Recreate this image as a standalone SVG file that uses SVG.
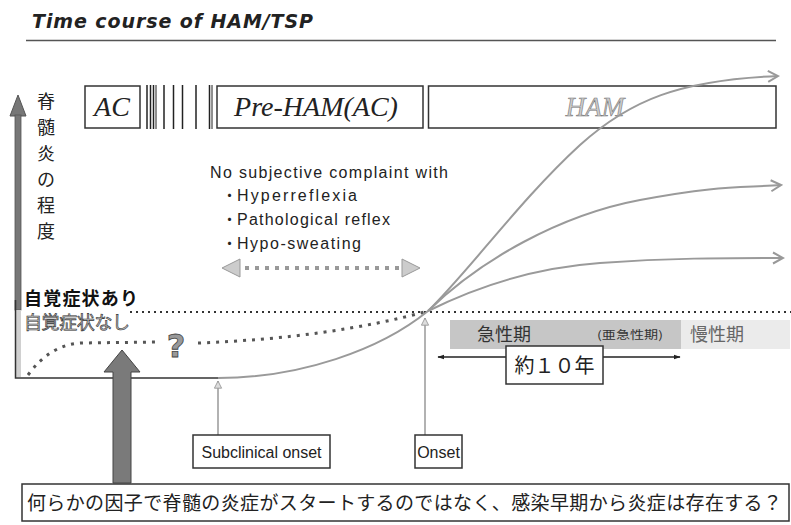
<svg xmlns="http://www.w3.org/2000/svg" width="791" height="525" viewBox="0 0 791 525">
<style>
.bx{fill:#fff;stroke:#333;stroke-width:1.5}
.cv{fill:none;stroke:#9a9a9a;stroke-width:2}
.jp{font-family:"Noto Sans CJK JP","Noto Sans CJK SC",sans-serif}
.en{font-family:"Liberation Sans",Arial,sans-serif}
.ti{font-family:"Liberation Serif","Times New Roman",serif;font-style:italic}
.vl{stroke:#222}
</style>
<defs>
<marker id="open" viewBox="0 0 14 14" refX="12" refY="7" markerWidth="14" markerHeight="14" markerUnits="userSpaceOnUse" orient="auto">
<path d="M2,1.5 L12,7 L2,12.5" fill="none" stroke="#999" stroke-width="2"/>
</marker>
<marker id="tip" viewBox="0 0 10 10" refX="9" refY="5" markerWidth="9" markerHeight="9" markerUnits="userSpaceOnUse" orient="auto">
<path d="M1,1 L9,5 L1,9 z" fill="#ddd" stroke="#999" stroke-width="1"/>
</marker>
<marker id="blk" viewBox="0 0 10 10" refX="9" refY="5" markerWidth="7" markerHeight="7" markerUnits="userSpaceOnUse" orient="auto-start-reverse">
<path d="M0,1.5 L10,5 L0,8.5 z" fill="#222"/>
</marker>
</defs>
<rect width="791" height="525" fill="#fff"/>

<g id="title">
<text x="32" y="28" font-family="DejaVu Sans,Verdana,sans-serif" font-weight="bold" font-style="italic" font-size="19" fill="#222" textLength="281" lengthAdjust="spacing">Time course of HAM/TSP</text>
<line x1="26" y1="40.5" x2="776" y2="40.5" stroke="#555" stroke-width="1.5"/>
</g>

<g id="box-ac">
<rect class="bx" x="85" y="86" width="55" height="42"/>
<text class="ti" x="112" y="116" font-size="28" text-anchor="middle" fill="#222">AC</text>
</g>
<g id="separator-lines">
<line class="vl" x1="147" y1="85" x2="147" y2="129" stroke-width="1.5"/>
<line class="vl" x1="150.5" y1="85" x2="150.5" y2="129" stroke-width="1.5"/>
<line class="vl" x1="153.5" y1="85" x2="153.5" y2="129" stroke-width="1.5"/>
<line class="vl" x1="156" y1="85" x2="156" y2="129" stroke-width="1"/>
<line class="vl" x1="164" y1="85" x2="164" y2="129" stroke-width="1.5"/>
<line class="vl" x1="173.5" y1="85" x2="173.5" y2="129" stroke-width="1.5"/>
<line class="vl" x1="182.5" y1="85" x2="182.5" y2="129" stroke-width="1.5"/>
<line class="vl" x1="196" y1="85" x2="196" y2="129" stroke-width="1.5"/>
<line class="vl" x1="209.5" y1="85" x2="209.5" y2="129" stroke-width="1.5"/>
<line class="vl" x1="212" y1="85" x2="212" y2="129" stroke-width="1"/>
</g>
<g id="box-prehAM">
<rect class="bx" x="217" y="86" width="206" height="42"/>
<text class="ti" x="316" y="116" font-size="28" text-anchor="middle" fill="#222">Pre-HAM(AC)</text>
</g>
<g id="box-ham">
<rect class="bx" x="428.5" y="86" width="347.5" height="42"/>
<text class="ti" x="595" y="116" font-size="27" text-anchor="middle" fill="#ccc" stroke="#777" stroke-width="0.6">HAM</text>
</g>

<g id="y-axis">
<polygon points="18,95 10,116 26,116" fill="#777" stroke="#555" stroke-width="1"/>
<rect x="15" y="115" width="6" height="195" fill="#777" stroke="#555" stroke-width="0.8"/>
<rect x="15" y="310" width="6" height="67" fill="#d0d0d0"/>
<path d="M15.5,300 V378 H218" fill="none" stroke="#333" stroke-width="1.5"/>
<g class="jp" font-size="18" fill="#222" text-anchor="middle">
<text x="46" y="108">脊</text>
<text x="46" y="134">髄</text>
<text x="46" y="160">炎</text>
<text x="46" y="186">の</text>
<text x="46" y="212">程</text>
<text x="46" y="238">度</text>
</g>
</g>

<g id="label-aware">
<text class="jp" x="24" y="305" font-size="18" font-weight="bold" fill="#111" textLength="114" lengthAdjust="spacing">自覚症状あり</text>
</g>
<g id="label-unaware">
<text class="jp" x="24" y="329" font-size="18" fill="#bbb" stroke="#333" stroke-width="0.6" textLength="106" lengthAdjust="spacing">自覚症状なし</text>
</g>

<g id="complaints" class="en" fill="#222">
<text x="210" y="178" font-size="16" textLength="238" lengthAdjust="spacing">No subjective complaint with</text>
<text class="jp" x="222" y="201" font-size="15">・</text>
<text x="237" y="201" font-size="16" textLength="120" lengthAdjust="spacing">Hyperreflexia</text>
<text class="jp" x="222" y="225" font-size="15">・</text>
<text x="237" y="225" font-size="16" textLength="153" lengthAdjust="spacing">Pathological reflex</text>
<text class="jp" x="222" y="249" font-size="15">・</text>
<text x="237" y="249" font-size="16" textLength="124" lengthAdjust="spacing">Hypo-sweating</text>
</g>

<g id="acute-band">
<rect x="450" y="320" width="231" height="29" fill="#c6c6c6"/>
<rect x="681" y="320" width="109" height="29" fill="#ebebeb"/>
<text class="jp" x="477" y="341" font-size="18" fill="#333">急性期</text>
<text class="jp" x="597" y="339" font-size="11" fill="#333" textLength="66" lengthAdjust="spacingAndGlyphs">(亜急性期)</text>
<text class="jp" x="690" y="341" font-size="18" fill="#666">慢性期</text>
</g>

<g id="connectors">
<line x1="130" y1="312" x2="791" y2="312" stroke="#333" stroke-width="2" stroke-dasharray="2 4"/>
<path d="M28,375 Q50,345 80,343 L157,342" fill="none" stroke="#555" stroke-width="3" stroke-dasharray="3 6"/>
<path d="M198,343 Q330,338 428,311" fill="none" stroke="#555" stroke-width="3" stroke-dasharray="3 6"/>
<path class="cv" d="M218,378 C300,378 380,350 428,311"/>
<path class="cv" d="M428,311 C470,270 520,200 580,145 C630,100 680,80 778,76" marker-end="url(#open)"/>
<path class="cv" d="M428,311 C480,260 560,215 640,200 S740,188 781,185" marker-end="url(#open)"/>
<path class="cv" d="M428,311 C470,290 530,268 600,263 S720,258 783,258" marker-end="url(#open)"/>
<g id="dashed-range">
<polygon points="222,268 240,259 240,277" fill="#ccc" stroke="#999" stroke-width="1"/>
<line x1="245" y1="268" x2="399" y2="268" stroke="#999" stroke-width="4" stroke-dasharray="4 6"/>
<polygon points="420,268 402,259 402,277" fill="#ccc" stroke="#999" stroke-width="1"/>
</g>
<line x1="218" y1="435" x2="218" y2="381" stroke="#999" stroke-width="1.5" marker-end="url(#tip)"/>
<line x1="425" y1="435" x2="425" y2="318" stroke="#999" stroke-width="1.5" marker-end="url(#tip)"/>
<line x1="438" y1="357" x2="680" y2="357" stroke="#222" stroke-width="1.5" marker-start="url(#blk)" marker-end="url(#blk)"/>
</g>

<g id="ten-years">
<rect class="bx" x="506" y="346" width="97" height="38"/>
<text class="jp" x="554.5" y="373" font-size="20" text-anchor="middle" fill="#222">約１０年</text>
</g>

<g id="question">
<text x="176" y="357" font-family="DejaVu Sans,sans-serif" font-weight="bold" font-size="32" text-anchor="middle" fill="#999" stroke="#444" stroke-width="0.8">?</text>
</g>

<g id="big-arrow">
<polygon points="113,483 113,372 104,372 122,350 140,372 131,372 131,483" fill="#7a7a7a" stroke="#444" stroke-width="1"/>
</g>

<g id="subclinical-onset">
<rect class="bx" x="193" y="435" width="137" height="33"/>
<text class="en" x="261.5" y="458" font-size="16" text-anchor="middle" fill="#222">Subclinical onset</text>
</g>
<g id="onset">
<rect class="bx" x="415" y="435" width="47" height="33"/>
<text class="en" x="438.5" y="458" font-size="16" text-anchor="middle" fill="#222">Onset</text>
</g>

<g id="bottom-note">
<rect x="22" y="484" width="767" height="37" fill="#fff" stroke="#333" stroke-width="1.5"/>
<text class="jp" x="27" y="510" font-size="19" fill="#222" textLength="755" lengthAdjust="spacing">何らかの因子で脊髄の炎症がスタートするのではなく、感染早期から炎症は存在する？</text>
</g>
</svg>
